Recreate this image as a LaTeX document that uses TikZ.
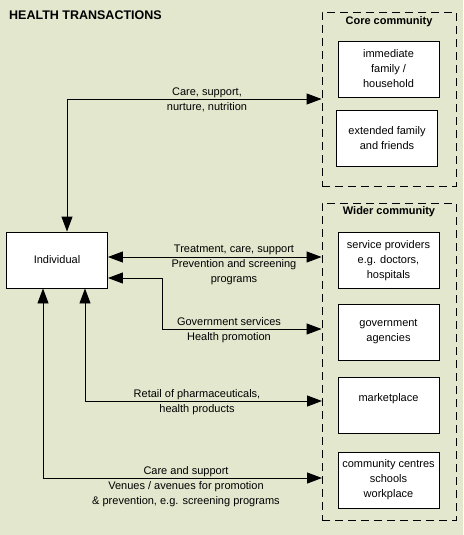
\documentclass[tikz,border=0pt]{standalone}
\usepackage{fontspec}
\setmainfont{Liberation Sans}
\usepackage{xcolor}
\usetikzlibrary{positioning}
\usetikzlibrary{arrows.meta}
\definecolor{bgpaper}{HTML}{E2E7CD}

\begin{document}
\begin{tikzpicture}[
    x=1pt, y=-1pt,
    font=\fontsize{11}{15}\selectfont,
    box/.style={rectangle, draw=black, line width=0.9pt, fill=white, minimum width=101pt, minimum height=56pt, align=center, inner sep=0pt},
    group/.style={rectangle, draw=black, line width=0.9pt, dash pattern=on 8pt off 5pt, minimum width=134pt},
    grouptitle/.style={font=\fontsize{11}{15}\selectfont\bfseries},
    lbl/.style={align=center, inner sep=0pt},
    link/.style={line width=0.9pt, {Triangle[length=15pt,width=11pt]}-{Triangle[length=15pt,width=11pt]}}
]
\fill[bgpaper] (0,0) rectangle (463,535);
\useasboundingbox (0,0) rectangle (463,535);

\node[anchor=west, inner sep=0pt, font=\fontsize{12.5}{15}\selectfont\bfseries] (title) at (9,15.5) {HEALTH TRANSACTIONS};

% core community
\node[group, minimum height=174pt] (core) at (389,99) {};
\node[grouptitle] (coretitle) at (389,22) {Core community};
\node[box] (family) at (388.5,69) {immediate\\family /\\household};
\node[box] (extended) at (387,138) {extended family\\and friends};

% wider community
\node[group, minimum height=317pt] (wider) at (389,361.5) {};
\node[grouptitle] (widertitle) at (389,212) {Wider community};
\node[box] (service) at (388.5,260.5) {service providers\\e.g. doctors,\\hospitals};
\node[box] (govt) at (388.5,332) {government\\agencies};
\node[box] (market) at (388.5,405) {marketplace\\\mbox{}};
\node[box] (centres) at (388.5,480) {community centres\\schools\\workplace};

\node[box] (indiv) at (57,260) {Individual};

% transactions
\coordinate (treat) at ([yshift=3pt]indiv.east);
\coordinate (gov) at ([yshift=-18pt]indiv.east);
\coordinate (govbend) at (162,329);
\coordinate (retail) at ([xshift=28pt]indiv.south);
\coordinate (retailend) at (322,401);
\coordinate (venues) at ([xshift=-14pt]indiv.south);
\coordinate (venuesend) at (322,478);

\draw[link] ([xshift=10pt]indiv.north) |- (core.west);
\draw[link] (treat) -- (treat -| wider.west);
\draw[link] (gov) -| (govbend) -- (govbend -| wider.west);
\draw[link] (retail) |- (retailend);
\draw[link] (venues) |- (venuesend);

\node[lbl] (carelbl) at (207,99.5) {Care, support,\\nurture, nutrition};
\node[lbl] (treatlbl) at (234,265) {Treatment, care, support\\Prevention and screening\\programs};
\node[lbl] (govlbl) at (229,330.5) {Government services\\Health promotion};
\node[lbl] (retaillbl) at (197,402.5) {Retail of pharmaceuticals,\\health products};
\node[lbl] (venueslbl) at (186,486.5) {Care and support\\Venues / avenues for promotion\\\& prevention, e.g. screening programs};
\end{tikzpicture}
\end{document}
